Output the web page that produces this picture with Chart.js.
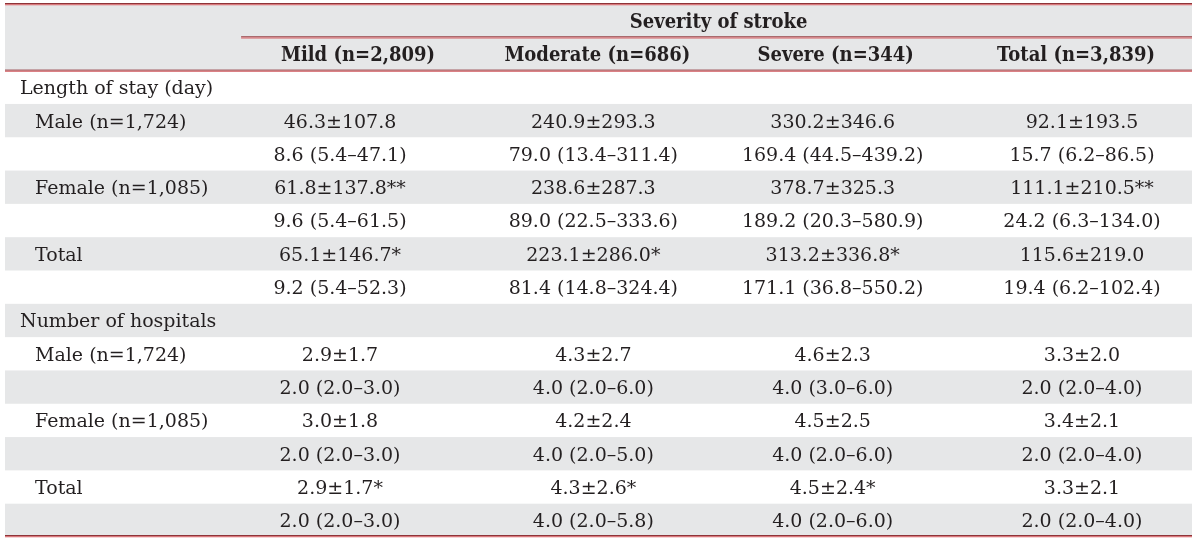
<!DOCTYPE html>
<html><head><meta charset="utf-8">
<script src="https://cdn.jsdelivr.net/npm/chart.js@4/dist/chart.umd.min.js"></script>
<style>html,body{margin:0;padding:0;background:#fff;}#wrap{width:1200px;height:540px;}</style>
</head><body><div id="wrap"><canvas id="c" width="1200" height="540"></canvas></div>
<script>
const groupHeader = 'Severity of stroke';
const columns = ['Mild (n=2,809)', 'Moderate (n=686)', 'Severe (n=344)', 'Total (n=3,839)'];
const rowLabels = ['Length of stay (day)', 'Male (n=1,724)', '', 'Female (n=1,085)', '', 'Total', '',
  'Number of hospitals', 'Male (n=1,724)', '', 'Female (n=1,085)', '', 'Total', ''];
const sectionRows = [0, 7];
const mild = ['', '46.3±107.8', '8.6 (5.4–47.1)', '61.8±137.8**', '9.6 (5.4–61.5)', '65.1±146.7*', '9.2 (5.4–52.3)',
  '', '2.9±1.7', '2.0 (2.0–3.0)', '3.0±1.8', '2.0 (2.0–3.0)', '2.9±1.7*', '2.0 (2.0–3.0)'];
const moderate = ['', '240.9±293.3', '79.0 (13.4–311.4)', '238.6±287.3', '89.0 (22.5–333.6)', '223.1±286.0*', '81.4 (14.8–324.4)',
  '', '4.3±2.7', '4.0 (2.0–6.0)', '4.2±2.4', '4.0 (2.0–5.0)', '4.3±2.6*', '4.0 (2.0–5.8)'];
const severe = ['', '330.2±346.6', '169.4 (44.5–439.2)', '378.7±325.3', '189.2 (20.3–580.9)', '313.2±336.8*', '171.1 (36.8–550.2)',
  '', '4.6±2.3', '4.0 (3.0–6.0)', '4.5±2.5', '4.0 (2.0–6.0)', '4.5±2.4*', '4.0 (2.0–6.0)'];
const total = ['', '92.1±193.5', '15.7 (6.2–86.5)', '111.1±210.5**', '24.2 (6.3–134.0)', '115.6±219.0', '19.4 (6.2–102.4)',
  '', '3.3±2.0', '2.0 (2.0–4.0)', '3.4±2.1', '2.0 (2.0–4.0)', '3.3±2.1', '2.0 (2.0–4.0)'];

const seriesList = [mild, moderate, severe, total];
const FONT = '"DejaVu Serif", "Liberation Serif", serif';
const TEXT = '#231f20';
const GRAY = '#e6e7e8';
const TEXT_DY = 2;
const dataNudge = [0, 6, -2, 0];
const headerNudge = [18, 10, 1, -6];

const datasets = seriesList.map((vals, ci) => ({
  label: columns[ci],
  data: vals.map((v, ri) => ({ x: ci + 1, y: ri, text: v })),
  pointRadius: 0, pointHoverRadius: 0, showLine: false
}));
datasets.push({
  label: 'rows',
  data: rowLabels.map((v, ri) => ({ x: 0, y: ri, text: v })),
  pointRadius: 0, pointHoverRadius: 0, showLine: false
});

function redLine(ctx, x1, x2, y) {
  ctx.fillStyle = '#8e3438';
  ctx.fillRect(x1, y - 1, x2 - x1, 1);
  ctx.fillStyle = '#d9787c';
  ctx.fillRect(x1, y, x2 - x1, 1.3);
}
function boldText(ctx, txt, cx, cy) {
  ctx.save();
  ctx.translate(cx, cy);
  ctx.scale(0.9, 1);
  ctx.fillText(txt, 0, 0);
  ctx.restore();
}

const tablePlugin = {
  id: 'table',
  beforeDatasetsDraw(chart) {
    const { ctx, chartArea: a, scales: { y } } = chart;
    ctx.save();
    ctx.fillStyle = GRAY;
    ctx.fillRect(a.left, y.getPixelForValue(-2.5), a.right - a.left, y.getPixelForValue(-0.5) - y.getPixelForValue(-2.5));
    rowLabels.forEach((_, ri) => {
      if (ri % 2 === 1) {
        const t = y.getPixelForValue(ri - 0.5), b = y.getPixelForValue(ri + 0.5);
        ctx.fillRect(a.left, t, a.right - a.left, b - t);
      }
    });
    ctx.restore();
  },
  afterDatasetsDraw(chart) {
    const { ctx, chartArea: a, scales: { x, y } } = chart;
    ctx.save();
    ctx.textBaseline = 'middle';
    ctx.fillStyle = TEXT;
    chart.data.datasets.forEach((ds, di) => {
      const meta = chart.getDatasetMeta(di);
      meta.data.forEach((pt, i) => {
        const txt = ds.data[i].text;
        if (!txt) return;
        ctx.font = '19px ' + FONT;
        if (ds.label === 'rows') {
          ctx.textAlign = 'left';
          const indent = sectionRows.includes(i) ? 15 : 30;
          ctx.fillText(txt, a.left + indent, pt.y + TEXT_DY);
        } else {
          ctx.textAlign = 'center';
          ctx.fillText(txt, pt.x + dataNudge[di], pt.y + TEXT_DY);
        }
      });
    });
    ctx.font = 'bold 20px ' + FONT;
    ctx.textAlign = 'center';
    columns.forEach((c, ci) => {
      boldText(ctx, c, x.getPixelForValue(ci + 1) + headerNudge[ci], y.getPixelForValue(-1) + TEXT_DY);
    });
    const gl = x.getPixelForValue(0.6);
    boldText(ctx, groupHeader, (gl + a.right) / 2 + 2, y.getPixelForValue(-2) + TEXT_DY);
    redLine(ctx, a.left, a.right, y.getPixelForValue(-2.5));
    redLine(ctx, gl, a.right, y.getPixelForValue(-1.5));
    redLine(ctx, a.left, a.right, y.getPixelForValue(-0.5));
    redLine(ctx, a.left, a.right, y.getPixelForValue(13.5) - 1);
    ctx.restore();
  }
};

new Chart(document.getElementById('c'), {
  type: 'scatter',
  data: { datasets },
  options: {
    responsive: false,
    animation: false,
    events: [],
    layout: { padding: { left: 5, right: 8, top: 4, bottom: 3 } },
    plugins: { legend: { display: false }, tooltip: { enabled: false } },
    scales: {
      x: { type: 'linear', display: false, min: -0.3546, max: 4.4448 },
      y: { type: 'linear', display: false, reverse: true, min: -2.5, max: 13.5 }
    }
  },
  plugins: [tablePlugin]
});
</script></body></html>
